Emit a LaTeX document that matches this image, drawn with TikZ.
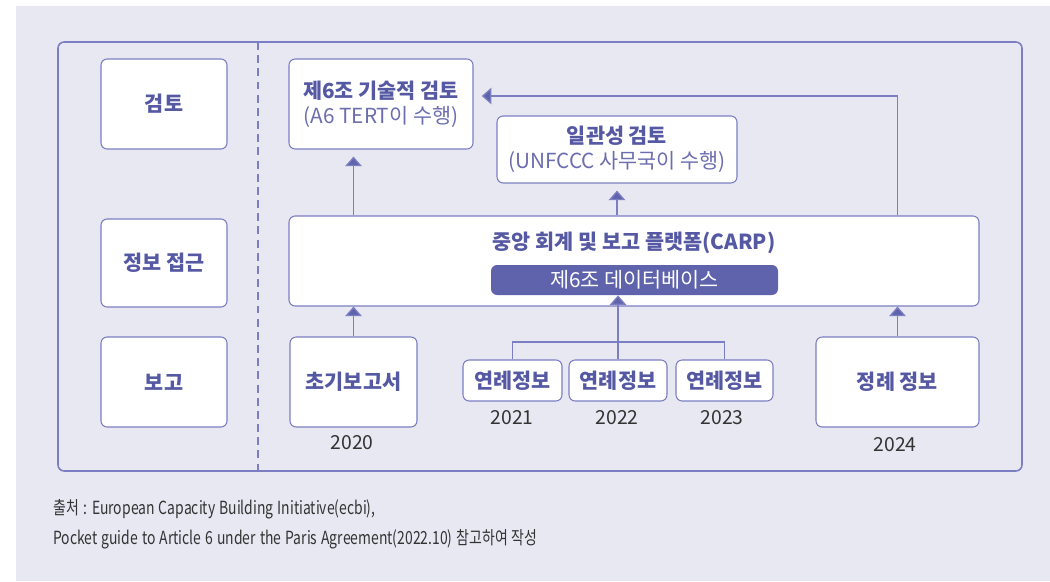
\documentclass[tikz,border=0pt]{standalone}
\usepackage{fontspec}
\setmainfont{Noto Sans CJK KR}
\newfontfamily\notefont[FakeStretch=0.77,WordSpace=1.3]{Noto Sans CJK KR}
\usetikzlibrary{arrows.meta}

\definecolor{bg}{HTML}{E8E8F3}
\definecolor{edge}{HTML}{7B7EC2}
\definecolor{ink}{HTML}{5558A3}
\definecolor{subink}{HTML}{6B6DAE}
\definecolor{solid}{HTML}{5F63AB}
\definecolor{grey}{HTML}{333333}

\def\u{0.02cm}

\begin{document}
\begin{tikzpicture}
[x=0.02cm,y=-0.02cm,
 box/.style={draw=edge,fill=white,rounded corners=3.5pt,line width=0.6pt,
   text=ink,align=center,inner sep=0pt,font=\fontsize{11.8}{14}\selectfont\bfseries},
 pill/.style={fill=solid,rounded corners=3.5pt,text=white,inner sep=0pt,
   font=\fontsize{11.8}{14}\selectfont},
 yr/.style={text=grey,font=\fontsize{11}{13}\selectfont},
 arr/.style={draw=edge,line width=0.75pt,->,>={Triangle[width=9.5pt,length=5.5pt,fill=solid]}},
 link/.style={draw=edge,line width=0.75pt}]

% page and frame
\useasboundingbox (0,0) rectangle (1050,581);
\fill[bg] (16,6) rectangle (1050,581);
\draw[edge,line width=0.9pt,rounded corners=3.5pt] (58,42) rectangle (1022,471);
\draw[edge,line width=0.7pt,dash pattern=on 4.5pt off 3pt] (258,42) -- (258,471);

% row labels
\node[box,minimum width=126*\u,minimum height=90*\u] (rev) at (164,104) {검토};
\node[box,minimum width=126*\u,minimum height=88*\u] (acc) at (164,263) {정보 접근};
\node[box,minimum width=126*\u,minimum height=90*\u] (rep) at (164,382) {보고};

% review boxes
\node[box,minimum width=184*\u,minimum height=90*\u] (art6) at (381,104)
  {제6조 기술적 검토\\[0pt]{\mdseries\color{subink}(A6 TERT이 수행)}};
\node[box,minimum width=240*\u,minimum height=67*\u] (cons) at (617,149.5)
  {일관성 검토\\[0pt]{\mdseries\color{subink}(UNFCCC 사무국이 수행)}};

% platform
\node[box,minimum width=690*\u,minimum height=90*\u] (carp) at (634,261) {};
\node[text=ink,font=\fontsize{11.8}{14}\selectfont\bfseries] (carpt) at (634,243)
  {중앙 회계 및 보고 플랫폼(CARP)};
\node[pill,minimum width=287*\u,minimum height=30*\u] (db) at (634.5,280) {제6조 데이터베이스};

% reports
\node[box,minimum width=127*\u,minimum height=90*\u] (init) at (353.5,382) {초기보고서};
\node[box,minimum width=99*\u,minimum height=41*\u] (ann1) at (512.5,380.5) {연례정보};
\node[box,minimum width=98*\u,minimum height=41*\u] (ann2) at (618,380.5) {연례정보};
\node[box,minimum width=97*\u,minimum height=41*\u] (ann3) at (724.5,380.5) {연례정보};
\node[box,minimum width=163*\u,minimum height=90*\u] (reg) at (897.5,382) {정례 정보};

% years
\node[yr] (y20) at (352,443) {2020};
\node[yr] (y21) at (512,418) {2021};
\node[yr] (y22) at (617,418) {2022};
\node[yr] (y23) at (722,418) {2023};
\node[yr] (y24) at (895,445) {2024};

% connectors
\coordinate (fork) at (618,342);
\coordinate (back) at (473,96);
\draw[link] (ann1.north) |- (fork) -| (ann3.north);
\draw[arr] (ann2.north) -- (ann2.north |- db.south);
\draw[arr] (init.north) -- (init.north |- carp.south);
\draw[arr] (reg.north) -- (reg.north |- carp.south);
\draw[arr,shorten >=4pt] (init.north |- carp.north) -- (init.north |- art6.south);
\draw[arr,shorten >=4pt] (cons.south |- carp.north) -- (cons.south);
\draw[arr,shorten >=5pt] (reg.north |- carp.north) |- (back);

% source
\node[anchor=west,text=grey,inner sep=0pt,font=\notefont\fontsize{10.3}{12}\selectfont] (note1) at (53,509)
  {출처 : European Capacity Building Initiative(ecbi),};
\node[anchor=west,text=grey,inner sep=0pt,font=\notefont\fontsize{10.3}{12}\selectfont] (note2) at (53,539)
  {Pocket guide to Article 6 under the Paris Agreement(2022.10) 참고하여 작성};

\end{tikzpicture}
\end{document}
